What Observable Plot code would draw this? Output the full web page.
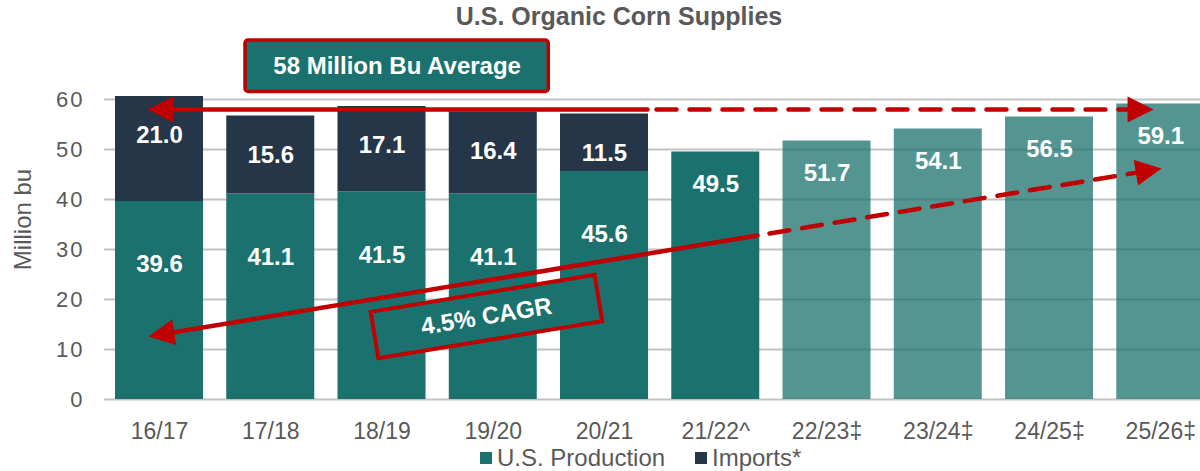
<!DOCTYPE html>
<html><head><meta charset="utf-8">
<script src="https://cdn.jsdelivr.net/npm/d3@7"></script>
<script src="https://cdn.jsdelivr.net/npm/@observablehq/plot@0.6"></script>
<style>
html,body{margin:0;padding:0;background:#fff;overflow:hidden;}
#wrap{position:relative;width:1200px;height:471px;overflow:hidden;font-family:"Liberation Sans",Arial,sans-serif;}
#title{position:absolute;left:619px;top:4px;transform:translateX(-50%);white-space:nowrap;font-weight:bold;font-size:25px;line-height:25px;color:#595959;}
#chart{position:absolute;left:0;top:34px;}
#legend{position:absolute;top:445px;left:0;width:1200px;height:26px;font-size:24px;color:#595959;line-height:26px;}
.item{position:absolute;top:0;white-space:nowrap;}
.sw{display:inline-block;width:12px;height:12px;margin-right:5px;vertical-align:middle;position:relative;top:-2px;}
#chart g[aria-label="y-axis tick label"] text{letter-spacing:2px;}
</style></head>
<body><div id="wrap"><div id="title"></div><div id="chart"></div><div id="legend"></div></div>
<script>
// ---- data ----
const seasons = ["16/17","17/18","18/19","19/20","20/21","21/22^","22/23‡","23/24‡","24/25‡","25/26‡"];
const production = [39.6, 41.1, 41.5, 41.1, 45.6, 49.5, 51.7, 54.1, 56.5, 59.1];
const imports = [21.0, 15.6, 17.1, 16.4, 11.5, null, null, null, null, null];
const projected = [false, false, false, false, false, false, true, true, true, true];
const yTicks = [0, 10, 20, 30, 40, 50, 60];
const titleText = "U.S. Organic Corn Supplies";
const yLabel = "Million bu";
const seriesNames = ["U.S. Production", "Imports*"];

// ---- annotations (x in season-index units, y in million bu) ----
const avgLabel = "58 Million Bu Average";
const avgBox = {x1: 0.773, x2: 3.499, y1: 61.5, y2: 71.8, cx: 2.136, cy: 66.65};
const avgSolid = [{x: 4.386, y: 58}, {x: 0.0, y: 58}];
const avgDashed = [{x: 4.467, y: 58}, {x: 8.827, y: 58}];
const avgHeads = [{x: -0.108, y: 58, angle: 180}, {x: 8.935, y: 58, angle: 0}];
const cagrLabel = "4.5% CAGR";
const cagrBox = {x: 2.939, y: 16.6, angle: -9.4};
const cagrSolid = [{x: 5.375, y: 32.8}, {x: 0.006, y: 12.99}];
const cagrDashed = [{x: 5.483, y: 33.2}, {x: 8.902, y: 45.81}];
const cagrHeads = [{x: -0.099, y: 12.6, angle: 170.6}, {x: 9.007, y: 46.2, angle: -9.4}];

const C = {prod: "#1b716d", imp: "#243647", red: "#c00000", grid: "#c2c2c2", text: "#595959"};

const rows = seasons.map((s, i) => ({
  i, season: s, production: production[i], imports: imports[i],
  total: production[i] + (imports[i] ?? 0), projected: projected[i]
}));
const withImports = rows.filter(d => d.imports != null);
const noImports = rows.filter(d => d.imports == null);
const half = 0.3955;

function polySymbol(points, angleDeg) {
  const a = angleDeg * Math.PI / 180, c = Math.cos(a), s = Math.sin(a);
  const pts = points.map(([x, y]) => [x * c - y * s, x * s + y * c]);
  return {draw(ctx) {
    ctx.moveTo(pts[0][0], pts[0][1]);
    for (const p of pts.slice(1)) ctx.lineTo(p[0], p[1]);
    ctx.closePath();
  }};
}
const tri = [[0, 0], [-26, -13], [-26, 13]];
const boxPts = (w, h) => [[-w/2, -h/2], [w/2, -h/2], [w/2, h/2], [-w/2, h/2]];

const heads = [...avgHeads, ...cagrHeads].map(h =>
  Plot.dot([h], {x: "x", y: "y", symbol: polySymbol(tri, h.angle), fill: C.red, stroke: null}));

const plot = Plot.plot({
  width: 1200, height: 406,
  marginLeft: 104, marginRight: 0, marginTop: 65, marginBottom: 41,
  x: {domain: [-0.4944, 9.357]},
  y: {domain: [0, 60]},
  style: {fontFamily: "'Liberation Sans', Arial, sans-serif", fontSize: "22px", color: C.text, background: "white", overflow: "visible"},
  marks: [
    Plot.ruleY(yTicks, {stroke: C.grid, strokeWidth: 2}),
    Plot.rect(rows.filter(d => !d.projected), {x1: d => d.i - half, x2: d => d.i + half, y1: 0, y2: "production", fill: C.prod}),
    Plot.rect(rows.filter(d => d.projected), {x1: d => d.i - half, x2: d => d.i + half, y1: 0, y2: "production", fill: C.prod, fillOpacity: 0.75}),
    Plot.rect(withImports, {x1: d => d.i - half, x2: d => d.i + half, y1: "production", y2: "total", fill: C.imp}),
    Plot.axisY(yTicks, {tickSize: 0, tickPadding: 20, fontSize: 22, label: null}),
    Plot.axisX(d3.range(seasons.length), {tickSize: 0, tickPadding: 23, fontSize: 23, tickFormat: i => seasons[i], label: null}),
    Plot.text([yLabel], {frameAnchor: "left", dx: -81, dy: -30, rotate: -90, textAnchor: "middle", fontSize: 24, fill: C.text}),
    Plot.text(withImports, {x: "i", y: "production", text: d => d.production.toFixed(1), dy: 63, fill: "white", fontWeight: "bold", fontSize: 24}),
    Plot.text(noImports, {x: "i", y: "production", text: d => d.production.toFixed(1), dy: 32, fill: "white", fontWeight: "bold", fontSize: 24}),
    Plot.text(withImports, {x: "i", y: "total", text: d => d.imports.toFixed(1), dy: 39, fill: "white", fontWeight: "bold", fontSize: 24}),
    // average annotation
    Plot.rect([avgBox], {x1: "x1", x2: "x2", y1: "y1", y2: "y2", fill: C.prod, stroke: C.red, strokeWidth: 3.5, rx: 3}),
    Plot.text([avgBox], {x: "cx", y: "cy", text: () => avgLabel, fill: "white", fontWeight: "bold", fontSize: 24}),
    Plot.line(avgSolid, {x: "x", y: "y", stroke: C.red, strokeWidth: 4.5}),
    Plot.line(avgDashed, {x: "x", y: "y", stroke: C.red, strokeWidth: 4.5, strokeDasharray: "20,13"}),
    // CAGR annotation
    Plot.line(cagrSolid, {x: "x", y: "y", stroke: C.red, strokeWidth: 4.5}),
    Plot.line(cagrDashed, {x: "x", y: "y", stroke: C.red, strokeWidth: 4.5, strokeDasharray: "20,13"}),
    Plot.dot([cagrBox], {x: "x", y: "y", symbol: polySymbol(boxPts(227, 47), cagrBox.angle), fill: C.prod, stroke: C.red, strokeWidth: 4}),
    Plot.text([cagrBox], {x: "x", y: "y", text: () => cagrLabel, rotate: cagrBox.angle, fill: "white", fontWeight: "bold", fontSize: 24}),
    ...heads
  ]
});
document.getElementById("chart").appendChild(plot);
document.getElementById("title").textContent = titleText;
const legend = document.getElementById("legend");
[[seriesNames[0], C.prod, 480], [seriesNames[1], C.imp, 695]].forEach(([name, col, left]) => {
  const it = document.createElement("div");
  it.className = "item"; it.style.left = left + "px";
  const sw = document.createElement("span"); sw.className = "sw"; sw.style.background = col;
  it.appendChild(sw); it.appendChild(document.createTextNode(name));
  legend.appendChild(it);
});
</script>
</body></html>
